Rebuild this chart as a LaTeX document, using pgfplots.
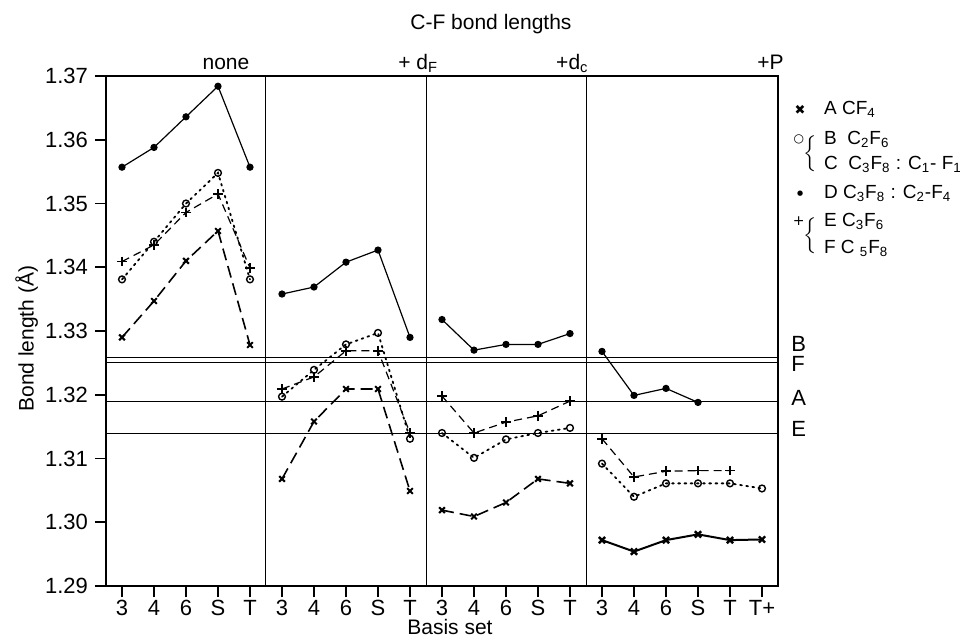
\documentclass[border=0pt]{standalone}
\usepackage{fontspec}
\setmainfont{Liberation Sans}
\newfontfamily\symfont{DejaVu Sans}
\usepackage{pgfplots}
\pgfplotsset{compat=1.18}

% series A (x), panels 1-3 dashed, panel 4 solid
\pgfplotstableread{
x y
0 1.3290
1 1.3347
2 1.3410
3 1.3457
4 1.3278
4.5 nan
5 1.3068
6 1.3158
7 1.3209
8 1.3209
9 1.3049
9.5 nan
10 1.3019
11 1.3009
12 1.3031
13 1.3068
14 1.3061
}\seriesA
\pgfplotstableread{
x y
15 1.2972
16 1.2954
17 1.2972
18 1.2981
19 1.2972
20 1.2973
}\seriesAP
% series B/C (open circle)
\pgfplotstableread{
x y
0 1.3381
1 1.3440
2 1.3500
3 1.3548
4 1.3381
4.5 nan
5 1.3197
6 1.3239
7 1.3279
8 1.3297
9 1.3131
9.5 nan
10 1.3140
11 1.3101
12 1.3130
13 1.3140
14 1.3148
14.5 nan
15 1.3092
16 1.3040
17 1.3061
18 1.3061
19 1.3061
20 1.3053
}\seriesB
% series D (filled dot)
\pgfplotstableread{
x y
0 1.3557
1 1.3588
2 1.3636
3 1.3684
4 1.3557
4.5 nan
5 1.3358
6 1.3369
7 1.3408
8 1.3427
9 1.3290
9.5 nan
10 1.3318
11 1.3270
12 1.3279
13 1.3279
14 1.3296
14.5 nan
15 1.3268
16 1.3199
17 1.3210
18 1.3188
}\seriesD
% series E/F (plus)
\pgfplotstableread{
x y
0 1.3409
1 1.3435
2 1.3486
3 1.3515
4 1.3399
4.5 nan
5 1.3209
6 1.3228
7 1.3269
8 1.3269
9 1.3140
9.5 nan
10 1.3198
11 1.3140
12 1.3157
13 1.3167
14 1.3190
14.5 nan
15 1.3131
16 1.3071
17 1.3080
18 1.3081
19 1.3081
}\seriesE

\begin{document}
\begin{tikzpicture}[font=\fontsize{10.5}{12}\selectfont]
\useasboundingbox (-53pt,-26.5pt) rectangle (431.5pt,293pt);
\begin{axis}[
    scale only axis,
    width=336pt, height=255pt,
    xmin=-0.5, xmax=20.5,
    ymin=1.29, ymax=1.37,
    xtick={0,...,20},
    xticklabels={3,4,6,S,T,3,4,6,S,T,3,4,6,S,T,3,4,6,S,T,T+},
    ytick={1.29,1.30,1.31,1.32,1.33,1.34,1.35,1.36,1.37},
    yticklabel style={/pgf/number format/.cd, fixed, fixed zerofill, precision=2},
    /pgf/number format/assume math mode=true,
    ticklabel style={font=\fontsize{11}{12}\selectfont},
    xticklabel style={inner sep=1.5pt},
    xtick pos=lower, ytick pos=left,
    tick align=outside,
    major tick length=5.5pt,
    tick style={line width=0.8pt, black},
    axis line style={line width=0.9pt},
    clip=false,
    unbounded coords=jump,
    every axis plot/.append style={black},
  ]
  % panel dividers
  \addplot[line width=0.5pt] coordinates {(4.5,1.29) (4.5,1.37)};
  \addplot[line width=0.5pt] coordinates {(9.5,1.29) (9.5,1.37)};
  \addplot[line width=0.5pt] coordinates {(14.5,1.29) (14.5,1.37)};
  % experimental reference lines
  \addplot[line width=0.5pt] coordinates {(-0.5,1.3258) (20.5,1.3258)};
  \addplot[line width=0.5pt] coordinates {(-0.5,1.3250) (20.5,1.3250)};
  \addplot[line width=0.5pt] coordinates {(-0.5,1.3189) (20.5,1.3189)};
  \addplot[line width=0.5pt] coordinates {(-0.5,1.3139) (20.5,1.3139)};

  \addplot[line width=0.8pt, dash pattern=on 6pt off 3pt, mark=x, mark size=2pt,
           mark options={solid, line width=1pt}] table[x=x, y=y] {\seriesA};
  \addplot[line width=1pt, mark=x, mark size=2.2pt,
           mark options={solid, line width=1.2pt}] table[x=x, y=y] {\seriesAP};
  \addplot[line width=0.9pt, dash pattern=on 0.9pt off 2.2pt, line cap=round,
           mark=o, mark size=1.7pt, mark options={solid, line width=0.7pt, fill=white}] table[x=x, y=y] {\seriesB};
  \addplot[line width=0.6pt, mark=*, mark size=1.5pt, mark options={solid}] table[x=x, y=y] {\seriesD};
  \addplot[line width=0.6pt, dash pattern=on 4pt off 2.5pt, mark=+, mark size=2.4pt,
           mark options={solid, line width=0.8pt}] table[x=x, y=y] {\seriesE};

  % panel captions
  \node[anchor=base east] at (axis cs:4.2,1.3711) {none};
  \node[anchor=base east] at (axis cs:10.1,1.3711) {+ d\textsubscript{F}};
  \node[anchor=base east] at (axis cs:14.8,1.3711) {+d\textsubscript{c}};
  \node[anchor=base east] at (axis cs:20.9,1.3711) {+P};
  % right labels of reference lines
  \node[anchor=west, font=\fontsize{11}{12}\selectfont] at (axis cs:20.7,1.3280) {B};
  \node[anchor=west, font=\fontsize{11}{12}\selectfont] at (axis cs:20.7,1.3248) {F};
  \node[anchor=west, font=\fontsize{11}{12}\selectfont] at (axis cs:20.7,1.3195) {A};
  \node[anchor=west, font=\fontsize{11}{12}\selectfont] at (axis cs:20.7,1.3147) {E};
  % title and axis labels
  \node at (axis cs:11.53,1.3781) {C-F bond lengths};
  \node[anchor=base] at (axis cs:10.25,1.2824) {Basis set};
  \node[rotate=90] at (axis description cs:-0.118,0.485) {Bond length (Å)};
  % legend
  \begin{scope}[every node/.style={font=\fontsize{9.5}{11}\selectfont}]
  \node at (axis cs:21.19,1.3647) {\symfont\fontsize{6.5}{6.5}\selectfont ✖};
  \node[anchor=west] at (axis cs:21.72,1.3647) {A CF\textsubscript{4}};
  \node at (axis cs:21.15,1.3600) {\symfont\fontsize{6}{6}\selectfont ○};
  \node[inner sep=0pt] at (axis cs:21.55,1.3580) {$\left\{\rule{0pt}{12pt}\right.$};
  \node[anchor=west] at (axis cs:21.72,1.3600) {B\ \ C\textsubscript{2}F\textsubscript{6}};
  \node[anchor=west] at (axis cs:21.72,1.3561) {C\ \ C\textsubscript{3}F\textsubscript{8} : C\textsubscript{1}- F\textsubscript{1}};
  \node at (axis cs:21.19,1.3516) {\symfont\fontsize{3.5}{4}\selectfont ●};
  \node[anchor=west] at (axis cs:21.72,1.3516) {D C\textsubscript{3}F\textsubscript{8} : C\textsubscript{2}-F\textsubscript{4}};
  \node at (axis cs:21.15,1.3472) {\symfont\fontsize{7}{7}\selectfont +};
  \node[inner sep=0pt] at (axis cs:21.55,1.3451) {$\left\{\rule{0pt}{12pt}\right.$};
  \node[anchor=west] at (axis cs:21.72,1.3472) {E C\textsubscript{3}F\textsubscript{6}};
  \node[anchor=west] at (axis cs:21.72,1.3430) {F C \textsubscript{5}F\textsubscript{8}};
  \end{scope}
\end{axis}
\end{tikzpicture}
\end{document}
